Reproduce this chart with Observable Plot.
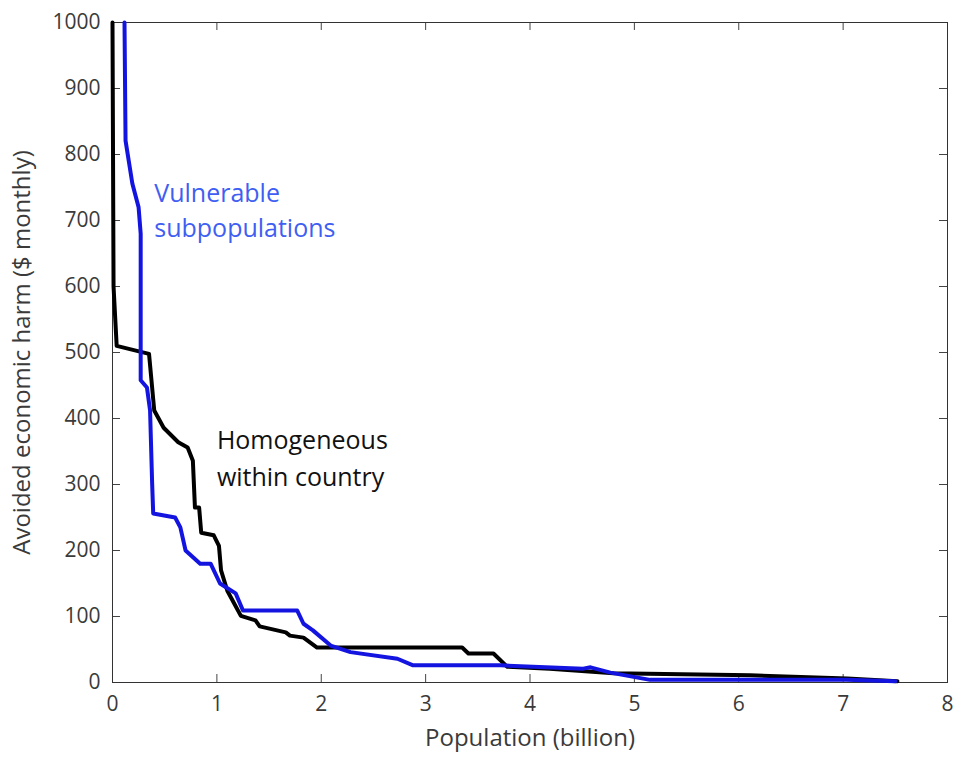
<!DOCTYPE html>
<html>
<head>
<meta charset="utf-8">
<script src="https://cdn.jsdelivr.net/npm/d3@7"></script>
<script src="https://cdn.jsdelivr.net/npm/@observablehq/plot@0.6"></script>
<style>
  html, body { margin: 0; padding: 0; background: #fff; }
  #chart svg { display: block; }
</style>
</head>
<body>
<div id="chart"></div>
<script>
// Population (billion) vs avoided economic harm ($ monthly)
const homogeneousX = [0.00, 0.01, 0.04, 0.35, 0.40, 0.49, 0.63, 0.72, 0.77, 0.79, 0.83, 0.85, 0.97, 1.02, 1.04, 1.10, 1.23, 1.37, 1.41, 1.66, 1.70, 1.83, 1.96, 3.35, 3.41, 3.65, 3.78, 4.19, 4.80, 6.11, 7.04, 7.52];
const homogeneousY = [1000, 600, 510, 498, 412, 386, 364, 356, 336, 265, 265, 227, 223, 207, 170, 139, 101, 94, 85, 76, 71, 68, 53, 53, 44, 44, 24, 21, 14, 11, 6, 2];

const vulnerableX = [0.115, 0.125, 0.19, 0.25, 0.27, 0.27, 0.27, 0.33, 0.36, 0.38, 0.39, 0.60, 0.65, 0.70, 0.84, 0.94, 1.03, 1.18, 1.25, 1.77, 1.83, 1.92, 2.09, 2.28, 2.73, 2.88, 3.72, 4.51, 4.58, 4.77, 5.15, 7.03, 7.50];
const vulnerableY = [1000, 821, 756, 720, 680, 529, 458, 447, 412, 301, 256, 250, 235, 200, 180, 180, 150, 135, 109, 109, 89, 79, 56, 46, 36, 26, 26, 21, 23, 15, 4, 4, 2];

const xTicks = [0, 1, 2, 3, 4, 5, 6, 7, 8];
const yTicks = [0, 100, 200, 300, 400, 500, 600, 700, 800, 900, 1000];

const labelLines = ["Vulnerable", "subpopulations", "Homogeneous", "within country"];
const labelSeries = ["vulnerable", "vulnerable", "homogeneous", "homogeneous"];
const labelX = [0.40, 0.40, 1.00, 1.00];
const labelY = [740, 687, 366, 310];

const homogeneous = homogeneousX.map((x, i) => ({x, y: homogeneousY[i]}));
const vulnerable = vulnerableX.map((x, i) => ({x, y: vulnerableY[i]}));
const labels = labelLines.map((text, i) => ({text, series: labelSeries[i], x: labelX[i], y: labelY[i]}));

const W = 962, H = 762, mL = 112, mR = 15, mT = 22, mB = 80;
const tickLen = 8;
const innerW = W - mL - mR, innerH = H - mT - mB;
const tickColor = "#3a3a3a";

const chart = Plot.plot({
  width: W,
  height: H,
  marginLeft: mL,
  marginRight: mR,
  marginTop: mT,
  marginBottom: mB,
  style: {fontFamily: "'Open Sans', sans-serif", fontSize: "21px", color: tickColor, background: "#fff"},
  x: {domain: [0, 8]},
  y: {domain: [0, 1000]},
  marks: [
    // inward ticks on all four sides
    Plot.ruleX(xTicks, {x: d => d, insetTop: innerH - tickLen, stroke: "#444", strokeWidth: 1}),
    Plot.ruleX(xTicks, {x: d => d, insetBottom: innerH - tickLen, stroke: "#444", strokeWidth: 1}),
    Plot.ruleY(yTicks, {y: d => d, insetRight: innerW - tickLen, stroke: "#444", strokeWidth: 1}),
    Plot.ruleY(yTicks, {y: d => d, insetLeft: innerW - tickLen, stroke: "#444", strokeWidth: 1}),
    Plot.frame({stroke: "#333", strokeWidth: 1}),
    Plot.axisX({ticks: xTicks, tickSize: 0, tickPadding: 14, fontSize: 21,
      label: null}),
    Plot.axisY({ticks: yTicks, tickSize: 0, tickPadding: 12, fontSize: 21, tickFormat: "d",
      label: null}),
    Plot.line(homogeneous, {x: "x", y: "y", stroke: "#000", strokeWidth: 4, strokeLinejoin: "round"}),
    Plot.line(vulnerable, {x: "x", y: "y", stroke: "#1414e0", strokeWidth: 4, strokeLinejoin: "round"}),
    Plot.text(labels, {x: "x", y: "y", text: "text", textAnchor: "start", fontSize: 25,
      fill: d => d.series === "vulnerable" ? "#3f5ef2" : "#111"}),
    // axis titles
    Plot.text(["Population (billion)"], {frameAnchor: "bottom", dy: 63, text: d => d, fontSize: 24, fill: tickColor}),
    Plot.text(["Avoided economic harm ($ monthly)"], {frameAnchor: "left", dx: -90, rotate: -90, textAnchor: "middle", text: d => d, fontSize: 24, fill: tickColor})
  ]
});
document.getElementById("chart").appendChild(chart);
</script>
</body>
</html>
